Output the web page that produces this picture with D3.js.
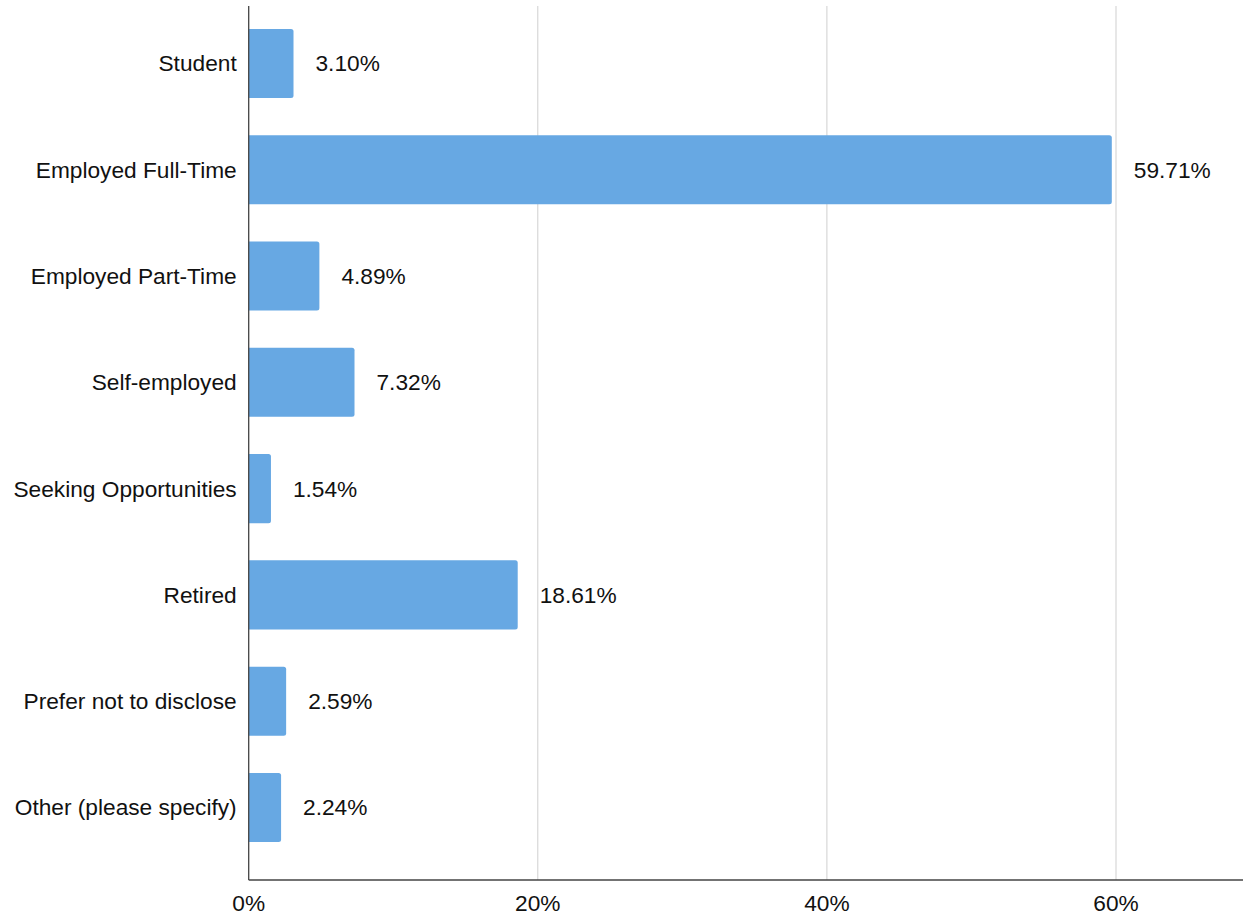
<!DOCTYPE html>
<html lang="en">
  <head>
    <meta charset="utf-8"/>
    <script src="https://d3js.org/d3.v7.min.js"></script>
    <title>Employment status</title>
    <style>
      body { margin: 0; background: #fff; }
      text { font-family: "Liberation Sans", Arial, Helvetica, sans-serif; fill: #111; }
    </style>
  </head>
  <body>
    <svg id="chart"></svg>
    <script>
    const width = 1243, height = 916;

    const categories = ["Student", "Employed Full-Time", "Employed Part-Time", "Self-employed",
      "Seeking Opportunities", "Retired", "Prefer not to disclose", "Other (please specify)"];
    const values = [3.10, 59.71, 4.89, 7.32, 1.54, 18.61, 2.59, 2.24];
    const tickValues = [0, 20, 40, 60];

    const fontSize = "22.7px";

    const svg = d3.select("#chart")
      .attr("width", width)
      .attr("height", height);

    const x0 = 248.7, axisTop = 6, axisBottom = 880;

    const x = d3.scaleLinear()
      .domain([0, 60])
      .range([x0, 1116]);

    const y = d3.scaleBand()
      .domain(categories)
      .range([10.3, 860.6])
      .paddingInner(0.35)
      .paddingOuter(0.175);

    // grid lines
    svg.selectAll(".grid")
      .data(tickValues.filter(d => d > 0))
      .enter()
      .append("line")
        .attr("x1", d => x(d))
        .attr("x2", d => x(d))
        .attr("y1", axisTop)
        .attr("y2", axisBottom)
        .attr("stroke", "#cfcfcf")
        .attr("stroke-width", 1);

    // bars with slightly rounded right end
    svg.selectAll(".bar")
      .data(values)
      .enter()
      .append("path")
        .attr("fill", "#67a8e3")
        .attr("d", function(d, i) {
          const r = 2.5;
          const left = x(0), right = x(d), top = y(categories[i]), bh = y.bandwidth();
          return "M" + left + "," + top +
            "H" + (right - r) +
            "Q" + right + "," + top + " " + right + "," + (top + r) +
            "V" + (top + bh - r) +
            "Q" + right + "," + (top + bh) + " " + (right - r) + "," + (top + bh) +
            "H" + left + "Z";
        });

    // value labels
    svg.selectAll(".val")
      .data(values)
      .enter()
      .append("text")
        .attr("x", d => x(d) + 22)
        .attr("y", (d, i) => y(categories[i]) + y.bandwidth() / 2)
        .attr("dy", "0.35em")
        .attr("font-size", fontSize)
        .text(d => d.toFixed(2) + "%");

    // category labels
    svg.selectAll(".cat")
      .data(categories)
      .enter()
      .append("text")
        .attr("x", x0 - 12)
        .attr("y", d => y(d) + y.bandwidth() / 2)
        .attr("dy", "0.35em")
        .attr("text-anchor", "end")
        .attr("font-size", fontSize)
        .text(d => d);

    // axes lines
    svg.append("line")
      .attr("x1", x0).attr("x2", x0)
      .attr("y1", axisTop).attr("y2", axisBottom)
      .attr("stroke", "#444").attr("stroke-width", 1.3);
    svg.append("line")
      .attr("x1", x0).attr("x2", width)
      .attr("y1", axisBottom).attr("y2", axisBottom)
      .attr("stroke", "#444").attr("stroke-width", 1.3);

    // x tick labels
    svg.selectAll(".tick")
      .data(tickValues)
      .enter()
      .append("text")
        .attr("x", d => x(d))
        .attr("y", 911)
        .attr("text-anchor", "middle")
        .attr("font-size", fontSize)
        .text(d => d + "%");
    </script>
  </body>
</html>
